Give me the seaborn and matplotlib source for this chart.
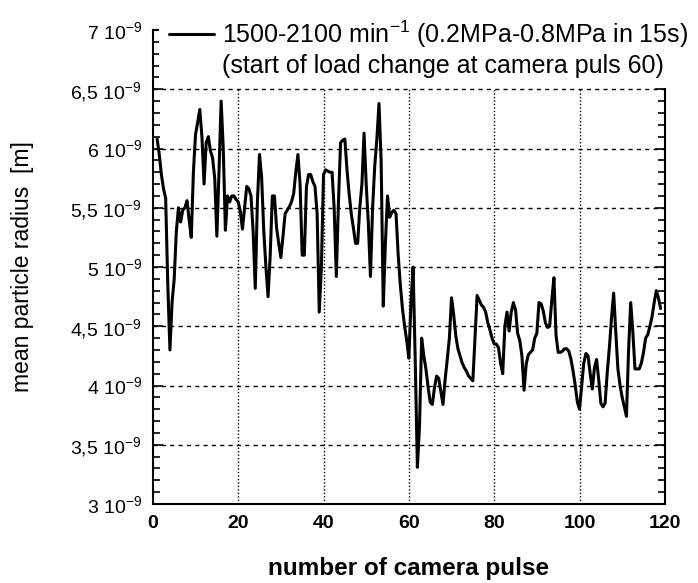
import numpy as np
import matplotlib
matplotlib.use('Agg')
import matplotlib.pyplot as plt
import seaborn as sns
from matplotlib.lines import Line2D
from matplotlib.ticker import MultipleLocator, FixedLocator

# mean particle radius (in 1e-9 m), read every half camera pulse, pulse 1 .. 119
radius = [
    6.08, 5.95, 5.78, 5.66, 5.58, 4.85, 4.30, 4.70, 4.90, 5.30,
    5.50, 5.38, 5.48, 5.50, 5.56, 5.40, 5.25, 5.80, 6.12, 6.22,
    6.33, 6.10, 5.70, 6.05, 6.10, 5.98, 5.92, 5.75, 5.26, 5.80,
    6.40, 6.00, 5.31, 5.60, 5.55, 5.60, 5.60, 5.57, 5.55, 5.47,
    5.32, 5.50, 5.68, 5.66, 5.60, 5.30, 4.82, 5.55, 5.95, 5.75,
    5.30, 5.00, 4.75, 5.10, 5.60, 5.60, 5.33, 5.20, 5.08, 5.26,
    5.45, 5.48, 5.51, 5.55, 5.62, 5.80, 5.95, 5.70, 5.10, 5.10,
    5.68, 5.78, 5.78, 5.72, 5.68, 5.45, 4.62, 5.00, 5.78, 5.82,
    5.81, 5.80, 5.80, 5.49, 4.92, 5.55, 6.05, 6.07, 6.08, 5.82,
    5.62, 5.45, 5.33, 5.20, 5.20, 5.50, 5.70, 6.13, 5.70, 5.37,
    4.92, 5.50, 5.85, 6.08, 6.38, 5.90, 4.67, 5.20, 5.60, 5.42,
    5.46, 5.48, 5.45, 5.10, 4.85, 4.65, 4.50, 4.38, 4.23, 4.70,
    5.00, 4.20, 3.31, 3.66, 4.40, 4.25, 4.14, 3.99, 3.86, 3.84,
    3.98, 4.08, 4.06, 3.95, 3.84, 4.05, 4.22, 4.40, 4.74, 4.60,
    4.42, 4.31, 4.25, 4.19, 4.15, 4.12, 4.08, 4.06, 4.04, 4.40,
    4.76, 4.72, 4.68, 4.66, 4.62, 4.53, 4.47, 4.40, 4.35, 4.35,
    4.32, 4.19, 4.10, 4.50, 4.62, 4.46, 4.62, 4.70, 4.64, 4.44,
    4.38, 4.25, 3.96, 4.18, 4.26, 4.28, 4.30, 4.40, 4.44, 4.70,
    4.69, 4.63, 4.53, 4.49, 4.50, 4.72, 4.91, 4.42, 4.28, 4.28,
    4.29, 4.31, 4.31, 4.29, 4.22, 4.12, 4.00, 3.86, 3.80, 4.00,
    4.19, 4.27, 4.25, 4.10, 3.97, 4.15, 4.22, 4.05, 3.85, 3.82,
    3.85, 4.11, 4.32, 4.57, 4.78, 4.45, 4.14, 4.00, 3.90, 3.82,
    3.74, 4.30, 4.70, 4.45, 4.14, 4.14, 4.14, 4.19, 4.28, 4.40,
    4.43, 4.50, 4.58, 4.70, 4.80, 4.74, 4.65,
]
pulse = np.arange(1, 119.01, 0.5)

y_ticks = [3, 3.5, 4, 4.5, 5, 5.5, 6, 6.5, 7]
y_labels = ['3 10$^{-9}$', '3,5 10$^{-9}$', '4 10$^{-9}$', '4,5 10$^{-9}$',
            '5 10$^{-9}$', '5,5 10$^{-9}$', '6 10$^{-9}$', '6,5 10$^{-9}$',
            '7 10$^{-9}$']
x_ticks = [0, 20, 40, 60, 80, 100, 120]

legend_line1 = '1500-2100 min$^{-1}$ (0.2MPa-0.8MPa in 15s)'
legend_line2 = '(start of load change at camera puls 60)'

sns.set_style('ticks')
plt.rcParams['font.family'] = ['Liberation Sans', 'DejaVu Sans']
plt.rcParams['mathtext.fontset'] = 'custom'
plt.rcParams['mathtext.rm'] = 'Liberation Sans'
plt.rcParams['mathtext.it'] = 'Liberation Sans:italic'
plt.rcParams['mathtext.bf'] = 'Liberation Sans:bold'
plt.rcParams['text.color'] = 'black'
plt.rcParams['axes.labelcolor'] = 'black'
plt.rcParams['xtick.color'] = 'black'
plt.rcParams['ytick.color'] = 'black'

fig = plt.figure(figsize=(6.98, 5.83), dpi=100)
ax = fig.add_axes([0.219, 0.1355, 0.7335, 0.813])

sns.lineplot(x=pulse, y=radius, ax=ax, color='black', lw=2.2)

ax.set_xlim(0, 120)
ax.set_ylim(3, 7)

# grid: dashed horizontal, dotted vertical
for yv in y_ticks[1:-1]:
    ax.axhline(yv, color='black', lw=1.0, ls=(0, (3, 3)), zorder=0)
for xv in x_ticks[1:-1]:
    ax.axvline(xv, color='black', lw=1.0, ls=(0, (1, 1.5)), zorder=0)

ax.yaxis.set_major_locator(FixedLocator(y_ticks))
ax.set_yticklabels(y_labels, fontsize=14)
ax.yaxis.set_minor_locator(MultipleLocator(0.1))
ax.set_xticks(x_ticks)
ax.set_xticklabels([str(v) for v in x_ticks], fontsize=14, fontweight='bold')

ax.tick_params(axis='both', which='both', direction='in', right=True,
               width=1.2, color='black', labelcolor='black')
ax.tick_params(axis='y', which='major', length=7, pad=8)
ax.tick_params(axis='y', which='minor', length=5)
ax.tick_params(axis='x', which='major', length=0, pad=8)

for s in ax.spines.values():
    s.set_linewidth(1.5)
    s.set_color('black')

ax.set_xlabel('number of camera pulse', fontsize=17.5, fontweight='bold', labelpad=18)
ax.set_ylabel('mean particle radius  [m]', fontsize=16.5, labelpad=26)

handles = [Line2D([], [], color='black', lw=2.2), Line2D([], [], color='none')]
leg = ax.legend(handles, [legend_line1, legend_line2], loc='upper left',
                bbox_to_anchor=(0.012, 1.045), fontsize=18, frameon=True,
                handlelength=1.8, handletextpad=0.3, labelspacing=0.15,
                borderpad=0.4, borderaxespad=0)
leg.get_frame().set_facecolor('white')
leg.get_frame().set_edgecolor('none')
leg.get_frame().set_alpha(1)

fig.savefig('out.png', dpi=100, facecolor='white')
